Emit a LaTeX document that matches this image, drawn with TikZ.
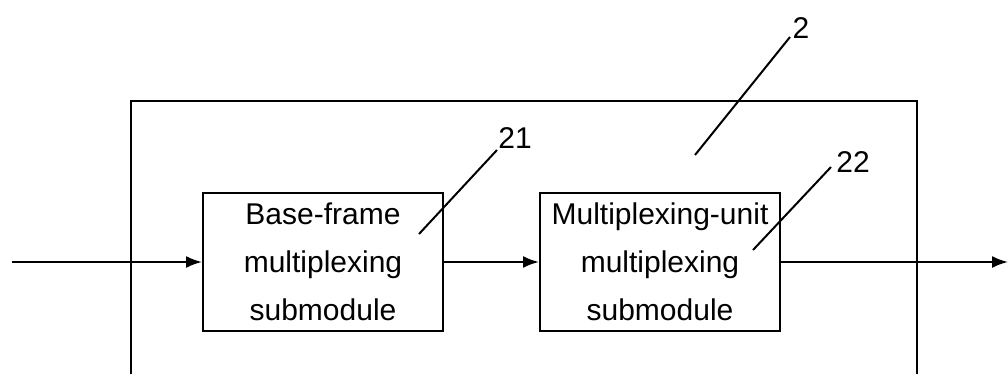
\documentclass[tikz,border=0pt]{standalone}
\usepackage{fontspec}
\setmainfont{Liberation Sans}
\usetikzlibrary{positioning}
\usetikzlibrary{arrows.meta}
\tikzset{>={Latex[length=16pt,width=12pt]}}

\begin{document}
\begin{tikzpicture}[x=1pt, y=-1pt, line width=2pt, font=\fontsize{30}{48}\selectfont]
\tikzset{subbox/.style={draw, minimum width=240pt, minimum height=138pt, align=center, inner sep=0pt}}
\useasboundingbox (0,0) rectangle (1008,374);
    % outer module 2, bottom edge runs off the page
    \coordinate (M2bl) at (131,374);
    \coordinate (M2tl) at (131,101);
    \coordinate (M2tr) at (917,101);
    \coordinate (M2br) at (917,374);
    \draw (M2bl) -- (M2tl) -- (M2tr) -- (M2br);

    \node[subbox] (B21) at (323,262) {Base-frame\\multiplexing\\submodule};
    \node[subbox, right=95pt of B21] (B22) {Multiplexing-unit\\multiplexing\\submodule};

    \coordinate (In) at (12,262);
    \coordinate (Out) at (1008,262);

    \draw[->] (In) -- (B21.west);
    \draw[->] (B21.east) -- (B22.west);
    \draw[->] (B22.east) -- (Out);
% % % % % % % % % % % % % % % % % % %
    \node (L2) at (801,28) {2};
    \node (L21) at (515,138) {21};
    \node (L22) at (853,162) {22};

    \coordinate (T2) at (695,155);
    \coordinate (E2) at (790,37);
    \coordinate (T21) at (419,234);
    \coordinate (E21) at (497,150);
    \coordinate (T22) at (753,250);
    \coordinate (E22) at (831,167);

    \draw (T2) -- (E2);
    \draw (T21) -- (E21);
    \draw (T22) -- (E22);
\end{tikzpicture}
\end{document}
